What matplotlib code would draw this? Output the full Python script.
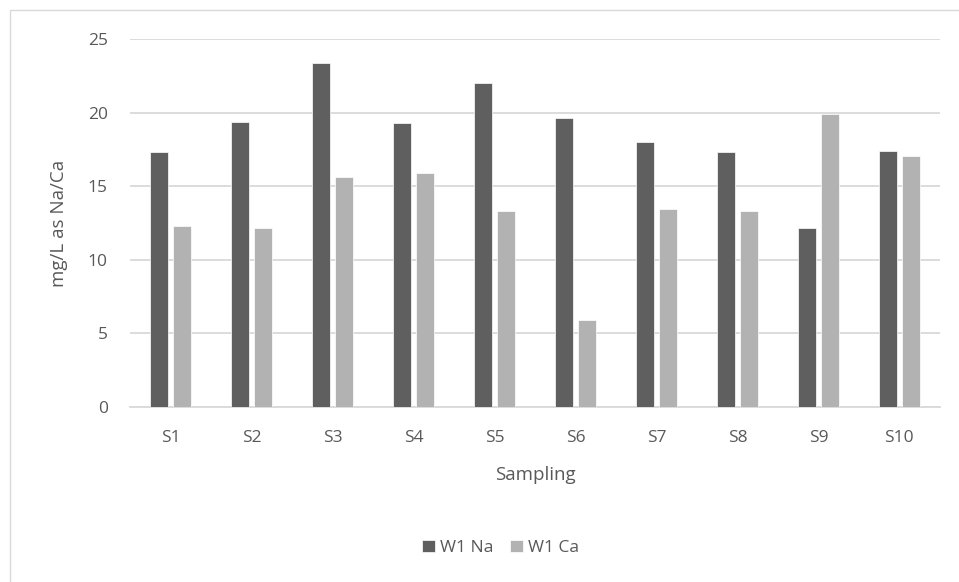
import numpy as np
import matplotlib
matplotlib.use('Agg')
import matplotlib.pyplot as plt
from matplotlib.patches import Rectangle

# Data
samples = ['S1', 'S2', 'S3', 'S4', 'S5', 'S6', 'S7', 'S8', 'S9', 'S10']
na_values = [17.35, 19.4, 23.4, 19.3, 22.0, 19.67, 18.0, 17.3, 12.15, 17.4]
ca_values = [12.3, 12.15, 15.65, 15.9, 13.3, 5.9, 13.45, 13.3, 19.9, 17.05]

plt.rcParams['font.family'] = ['Open Sans', 'DejaVu Sans']
text_color = '#595959'

fig = plt.figure(figsize=(9.59, 5.82), dpi=100)
ax = fig.add_axes([0.1356, 0.3012, 0.8444, 0.6313])

x = np.arange(len(samples))
width = 0.225
ax.bar(x - 0.142, na_values, width, color='#5f5f5f', edgecolor='white', linewidth=0.5,
       label='W1 Na', zorder=3)
ax.bar(x + 0.142, ca_values, width, color='#b2b2b2', edgecolor='white', linewidth=0.5,
       label='W1 Ca', zorder=3)

ax.set_xlim(-0.5, len(samples) - 0.5)
ax.set_ylim(0, 25)
ax.set_yticks([0, 5, 10, 15, 20, 25])
ax.set_xticks(x)
ax.set_xticklabels(samples)
ax.grid(axis='y', color='#d9d9d9', linewidth=1.3, zorder=0)
ax.tick_params(length=0, labelsize=12.5, colors=text_color)
ax.tick_params(axis='x', pad=17)
ax.tick_params(axis='y', pad=16)
for s in ['top', 'right', 'left']:
    ax.spines[s].set_visible(False)
ax.spines['bottom'].set_color('#d9d9d9')
ax.spines['bottom'].set_linewidth(1.3)

ax.set_ylabel('mg/L as Na/Ca', fontsize=13.5, color=text_color, labelpad=14)
ax.set_xlabel('Sampling', fontsize=13.5, color=text_color, labelpad=14)

fig.legend(loc='center', bbox_to_anchor=(0.522, 0.058), ncol=2, frameon=False,
           fontsize=12.5, labelcolor=text_color, handlelength=0.7, handleheight=0.7,
           handletextpad=0.3, columnspacing=1.0)

# light chart border
fig.patches.append(Rectangle((10 / 959, -0.01), 1.0, 1 - 10 / 582 + 0.01,
                             transform=fig.transFigure, fill=False,
                             edgecolor='#d9d9d9', linewidth=1))

fig.savefig('out.png', dpi=100)
